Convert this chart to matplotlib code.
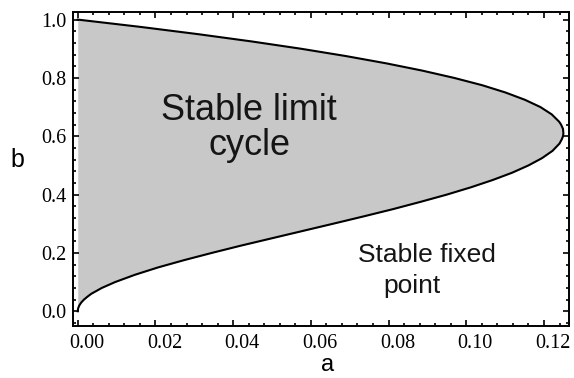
import matplotlib
matplotlib.use("Agg")
import matplotlib.pyplot as plt
import matplotlib.transforms as mtransforms
from matplotlib.ticker import MultipleLocator, FormatStrFormatter

# Hopf boundary: b along the curve, a at each b
b_vals = [0.0, 0.01, 0.02, 0.03, 0.04, 0.05, 0.06, 0.08, 0.10, 0.125, 0.15, 0.175,
          0.20, 0.225, 0.25, 0.275, 0.30, 0.325, 0.35, 0.375, 0.40, 0.425, 0.45,
          0.475, 0.50, 0.525, 0.55, 0.575, 0.59, 0.60, 0.61, 0.625, 0.64, 0.65,
          0.675, 0.70, 0.725, 0.75, 0.775, 0.80, 0.825, 0.85, 0.875, 0.90,
          0.925, 0.95, 0.975, 1.0]
a_vals = [0.0, 0.0001, 0.0004, 0.0009, 0.0016, 0.0025, 0.0035, 0.0062, 0.0096,
          0.0147, 0.0206, 0.0273, 0.0345, 0.0420, 0.0499, 0.0578, 0.0657, 0.0735,
          0.0811, 0.0882, 0.0950, 0.1012, 0.1068, 0.1118, 0.1160, 0.1195, 0.1222,
          0.1240, 0.1246, 0.1249, 0.1250, 0.1249, 0.1244, 0.1239, 0.1220, 0.1191,
          0.1151, 0.1101, 0.1041, 0.0969, 0.0887, 0.0794, 0.0690, 0.0575, 0.0448,
          0.0310, 0.0161, 0.0]

region_labels = ["Stable limit\ncycle", "Stable fixed", "point"]

fig = plt.figure(figsize=(5.74, 3.78), dpi=100)
ax = fig.add_axes([0.128, 0.138, 0.863, 0.831])

ax.fill_betweenx(b_vals, 0, a_vals, color='#c8c8c8', linewidth=0)
ax.plot(a_vals, b_vals, color='black', linewidth=1.5, solid_joinstyle='round')

ax.set_xlim(-0.0011, 0.1264)
ax.set_ylim(-0.050, 1.027)

ax.xaxis.set_major_locator(MultipleLocator(0.02))
ax.xaxis.set_minor_locator(MultipleLocator(0.004))
ax.yaxis.set_major_locator(MultipleLocator(0.2))
ax.yaxis.set_minor_locator(MultipleLocator(0.04))
ax.xaxis.set_major_formatter(FormatStrFormatter('%.2f'))
ax.yaxis.set_major_formatter(FormatStrFormatter('%.1f'))

ax.tick_params(which='both', direction='in', top=True, right=True, width=1.2, color='black')
ax.tick_params(which='major', length=4.5)
ax.tick_params(which='minor', length=2.5)
ax.tick_params(axis='x', pad=6)
ax.tick_params(axis='y', pad=5)
# x labels sit a little right of their ticks in the original
shift = mtransforms.ScaledTranslation(9 / 100, 0, fig.dpi_scale_trans)
for lab in ax.get_xticklabels():
    lab.set_transform(lab.get_transform() + shift)
for lab in ax.get_xticklabels() + ax.get_yticklabels():
    lab.set_fontfamily('Liberation Serif')
    lab.set_fontsize(14.5)
for spine in ax.spines.values():
    spine.set_linewidth(1.4)

ax.text(0.0441, 0.63, region_labels[0], ha='center', va='center', fontsize=26,
        family='Liberation Sans', linespacing=1.0, color='#151515')
ax.text(0.0721, 0.192, region_labels[1], ha='left', va='center', fontsize=19,
        family='Liberation Sans', color='#151515')
ax.text(0.0786, 0.086, region_labels[2], ha='left', va='center', fontsize=19,
        family='Liberation Sans', color='#151515')

fig.text(328 / 574, 2 / 378, 'a', ha='center', va='bottom', fontsize=17, family='Liberation Sans')
fig.text(17 / 574, 1 - 160 / 378, 'b', ha='center', va='center', fontsize=18, family='Liberation Sans')

fig.savefig('out.png', dpi=100)
